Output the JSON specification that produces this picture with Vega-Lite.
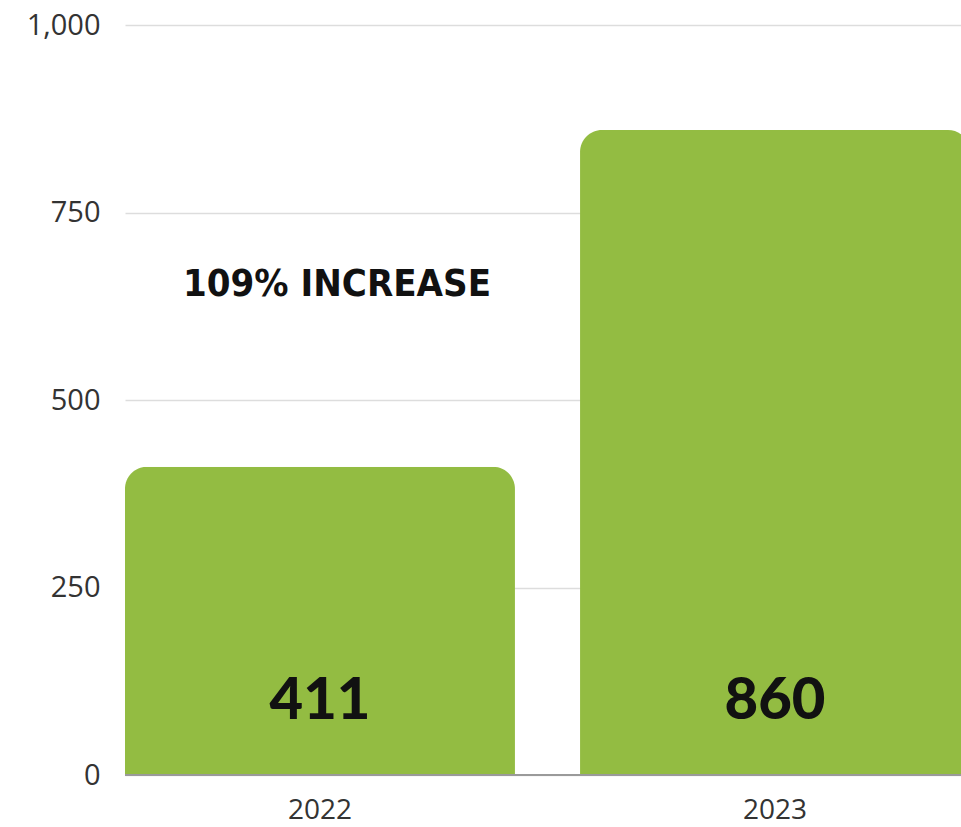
{
  "$schema": "https://vega.github.io/schema/vega-lite/v6.json",
  "autosize": "none",
  "padding": {"left": 125, "top": 25, "right": 0, "bottom": 52},
  "width": 845,
  "height": 750,
  "background": "white",
  "config": {"view": {"stroke": null}},
  "datasets": {
    "bars": [{"year": "2022", "count": 411}, {"year": "2023", "count": 860}],
    "note": [{"year": "2022", "label": "109% INCREASE"}]
  },
  "encoding": {
    "x": {
      "field": "year", "type": "nominal",
      "scale": {"paddingInner": 0.143, "paddingOuter": 0},
      "axis": {"title": null, "labelAngle": 0, "labelFont": "Open Sans", "labelFontSize": 28, "labelColor": "#333333", "ticks": false, "domain": false, "labelPadding": 21}
    }
  },
  "layer": [
    {
      "data": {"name": "bars"},
      "mark": {"type": "bar", "color": "#93bc42", "cornerRadiusTopLeft": 22, "cornerRadiusTopRight": 22},
      "encoding": {
        "y": {
          "field": "count", "type": "quantitative",
          "scale": {"domain": [0, 1000], "nice": false},
          "axis": {"title": null, "values": [0, 250, 500, 750, 1000], "format": ",.0f", "labelFont": "Open Sans", "labelFontSize": 29, "labelColor": "#333333", "ticks": false, "domain": false, "labelPadding": 25, "gridColor": "#dddddd", "gridWidth": 1.5}
        }
      }
    },
    {
      "data": {"name": "bars"},
      "mark": {"type": "rule", "color": "#9a9a9a", "strokeWidth": 2},
      "encoding": {"y": {"datum": 0}, "x": {"value": 0}, "x2": {"value": 845}}
    },
    {
      "data": {"name": "bars"},
      "mark": {"type": "text", "font": "Lato", "fontWeight": 900, "fontSize": 58, "color": "#111111", "baseline": "middle"},
      "encoding": {"text": {"field": "count", "type": "quantitative"}, "y": {"datum": 98}}
    },
    {
      "data": {"name": "note"},
      "mark": {"type": "text", "font": "DejaVu Sans Condensed", "fontWeight": "bold", "fontSize": 38, "color": "#111111", "baseline": "middle", "dx": 17},
      "encoding": {"text": {"field": "label"}, "y": {"datum": 653}}
    }
  ]
}
